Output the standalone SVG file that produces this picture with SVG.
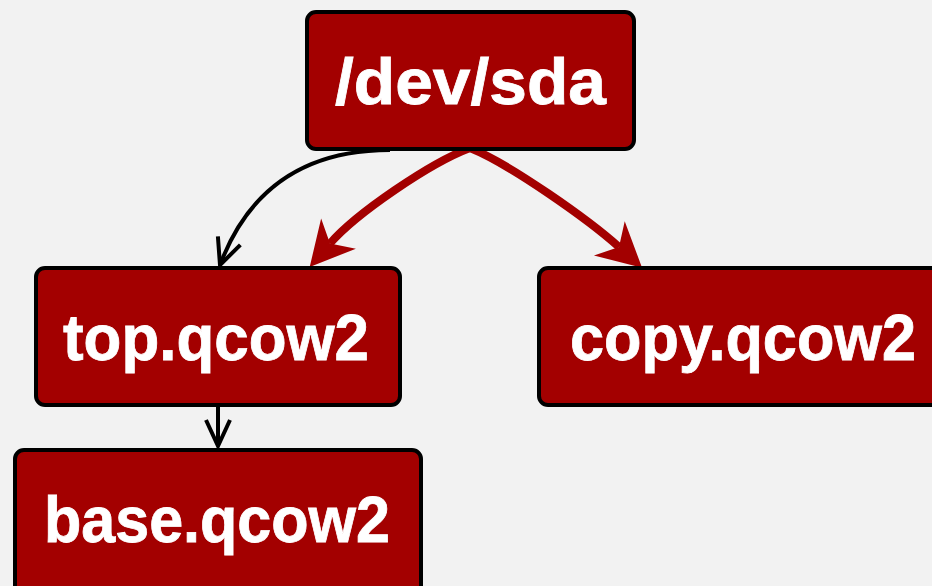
<svg xmlns="http://www.w3.org/2000/svg" width="932" height="586" viewBox="0 0 932 586">
  <style>
    .box { fill: #a30000; stroke: #000; stroke-width: 4; }
    .label { fill: #fff; stroke: #fff; stroke-width: 0.8; font-family: "Liberation Sans", Arial, sans-serif; font-weight: bold; font-size: 64px; text-anchor: middle; }
    .thin { fill: none; stroke: #000; stroke-width: 4; }
    .thick { fill: none; stroke: #a30000; stroke-width: 8; }
  </style>
  <defs>
    <marker id="open-v" markerUnits="userSpaceOnUse" markerWidth="40" markerHeight="40" viewBox="-32 -20 40 40" refX="0" refY="0" orient="auto" overflow="visible">
      <path d="M-26,-12 L0,0 L-26,12" fill="none" stroke="#000" stroke-width="4" stroke-linecap="butt"/>
    </marker>
    <marker id="barb" markerUnits="userSpaceOnUse" markerWidth="60" markerHeight="60" viewBox="-10 -30 60 60" refX="0" refY="0" orient="auto" overflow="visible">
      <path d="M31,0 L-13,-23 L0,0 L-13,23 Z" fill="#a30000"/>
    </marker>
  </defs>

  <rect width="932" height="586" fill="#f2f2f2"/>

  <g id="connectors">
    <path class="thin" d="M390,150 C310,150 250,185 220,265" marker-end="url(#open-v)"/>
    <path class="thin" d="M218,407 L218,446" marker-end="url(#open-v)"/>
    <path class="thick" d="M470,148 C430,163 356,213.5 330,243.5" marker-end="url(#barb)"/>
    <path class="thick" d="M470,148 C510,164 589,220 619,247" marker-end="url(#barb)"/>
  </g>

  <g id="node-sda">
    <rect class="box" x="307" y="12" width="327" height="137" rx="9"/>
    <text class="label" x="470.5" y="104" textLength="271" lengthAdjust="spacingAndGlyphs">/dev/sda</text>
  </g>

  <g id="node-top">
    <rect class="box" x="36" y="268" width="364" height="137" rx="9"/>
    <text class="label" x="216" y="360" textLength="306" lengthAdjust="spacingAndGlyphs">top.qcow2</text>
  </g>

  <g id="node-copy">
    <rect class="box" x="539" y="268" width="410" height="137" rx="9"/>
    <text class="label" x="743" y="360" textLength="346" lengthAdjust="spacingAndGlyphs">copy.qcow2</text>
  </g>

  <g id="node-base">
    <rect class="box" x="15" y="450" width="406" height="150" rx="9"/>
    <text class="label" x="217" y="542" textLength="346" lengthAdjust="spacingAndGlyphs">base.qcow2</text>
  </g>
</svg>
